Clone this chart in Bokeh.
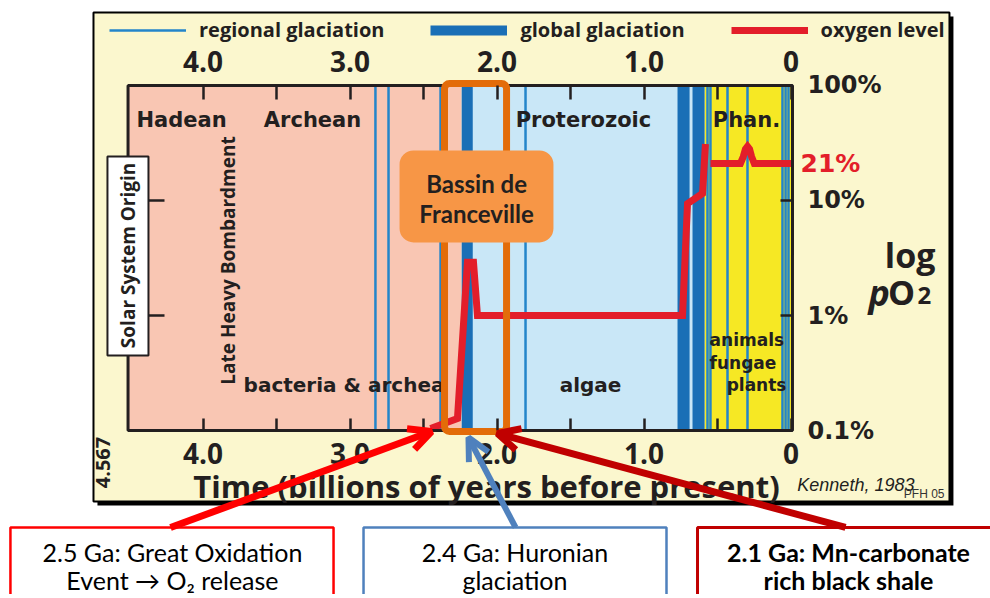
import math
from bokeh.plotting import figure
from bokeh.models import (Range1d, LinearAxis, LogAxis, FixedTicker, Legend, LegendItem,
                          Arrow, OpenHead)
from bokeh.core.properties import value
from bokeh.embed import file_html
from bokeh.resources import INLINE

NAN = float("nan")

# ---------------- data ----------------
# eon background bands (Ga before present)
era_names = ["Hadean-Archean", "Proterozoic", "Phanerozoic"]
era_start = [4.51, 2.24, 0.588]
era_end = [2.24, 0.588, -0.01]
era_colors = ["#F9C6B3", "#C9E7F7", "#F6E824"]

# global glaciations (bands)
global_start = [2.24, 0.772, 0.670]
global_end = [2.165, 0.690, 0.588]

# regional glaciations (thin lines)
regional_t = [2.827, 2.738, 2.384, 1.806, 0.568, 0.548, 0.432, 0.296, 0.058, 0.037, 0.017]

# oxygen level (% of atmosphere), NaN = break in the curve
oxy_t = [2.452, 2.269, 2.201, 2.160, 2.133, 0.738, 0.704, 0.602, 0.582, NAN,
         0.548, 0.344, 0.325, 0.310, 0.296, 0.282, 0.268, 0.250, -0.01]
oxy_pct = [0.104, 0.127, 2.9, 2.9, 1.0, 1.0, 9.4, 11.5, 31.0, NAN,
           21.0, 21.0, 24.0, 28.0, 29.5, 28.0, 24.0, 21.0, 21.0]

x_ticks = [4, 3, 2, 1, 0]
x_tick_labels = ["4.0", "3.0", "2.0", "1.0", "0"]
x_minor_ticks = [3.5, 2.5, 1.5, 0.5]
y_ticks = [0.1, 1, 10, 100]
y_tick_labels = ["0.1%", "1%", "10%", "100%"]
y_inner_ticks = [1, 10]

# ---------------- styling ----------------
INK = "#231F20"
CREAM = "#FBF7CE"
DARK_BLUE = "#1A6FB6"
LINE_BLUE = "#2385CA"
RED = "#E31E2A"
ORANGE = "#E36C09"
ORANGE_FILL = "#F79646"
W, H = 990, 594

p = figure(width=W, height=H, x_range=Range1d(5.3776, -1.3571),
           y_range=Range1d(0.003750, 548.3), y_axis_type="log",
           x_axis_location=None, y_axis_location=None, min_border=0,
           toolbar_location=None, output_backend="svg",
           background_fill_color="white", border_fill_color="white",
           outline_line_color=None)
p.grid.visible = False


def txt(xs, ys, texts, size, font="Open Sans", style="bold", color=INK,
        align="center", baseline="middle", angle=0.0):
    return p.text(x=xs, y=ys, text=texts, text_font=value(font), text_font_size=size,
                  text_font_style=style, text_color=color, text_align=align,
                  text_baseline=baseline, angle=angle)


# cream panel with shadow
p.quad(left=[4.718], right=[-1.105], top=[398.0], bottom=[0.02228],
       fill_color="black", line_color=None)
p.quad(left=[4.745], right=[-1.078], top=[431.5], bottom=[0.02415],
       fill_color=CREAM, line_color="black", line_width=2)

# eon backgrounds
p.quad(left=era_start, right=era_end, top=100, bottom=0.1,
       fill_color=era_colors, line_color=None)

# glaciations
r_global = p.quad(left=global_start, right=global_end, top=100, bottom=0.1,
                  fill_color=DARK_BLUE, line_color=None)
r_regional = p.segment(x0=regional_t, y0=0.1, x1=regional_t, y1=100,
                       line_color=LINE_BLUE, line_width=2.5)

# era / life labels
txt([4.146, 3.255, 1.412, 0.303], [50.6] * 4,
    ["Hadean", "Archean", "Proterozoic", "Phan."], "21px", font="DejaVu Sans")
txt([3.724], [0.251], ["bacteria & archea"], "20px", font="DejaVu Sans", align="left")
txt([1.364], [0.251], ["algae"], "20px", font="DejaVu Sans")
txt([0.554, 0.554], [0.607, 0.390], ["animals", "fungae"], "17px",
    font="DejaVu Sans", align="left")
txt([0.031], [0.251], ["plants"], "17px", font="DejaVu Sans", align="right")
txt([3.827], [3.01], ["Late Heavy Bombardment"], "19px", angle=math.pi / 2)

# oxygen curve
r_oxy = p.line(x=oxy_t, y=oxy_pct, line_color=RED, line_width=7, line_join="miter")
txt([-0.065], [21.0], ["21%"], "25px", font="DejaVu Sans", color=RED, align="left")

# frame
p.quad(left=[4.51], right=[-0.01], top=[100], bottom=[0.1],
       fill_color=None, line_color=INK, line_width=3)

# Franceville highlight
p.quad(left=[2.357], right=[1.935], top=[104.0], bottom=[0.098],
       fill_color=None, line_color=ORANGE, line_width=7, border_radius=5)
p.quad(left=[2.663], right=[1.616], top=[27.2], bottom=[4.315],
       fill_color=ORANGE_FILL, line_color=None, border_radius=14)
txt([2.139, 2.139], [14.06, 7.71], ["Bassin de", "Franceville"], "24px", font="Lato")

# Solar System Origin box
p.quad(left=[4.650], right=[4.371], top=[24.15], bottom=[0.449],
       fill_color="white", line_color=INK, line_width=2)
txt([4.507], [3.33], ["Solar System Origin"], "19px", angle=math.pi / 2)

# right-hand title and credits
txt([-0.983], [3.33], ["log"], "34px", align="right", baseline="alphabetic")
txt([-0.527], [1.585], ["p"], "36px", style="bold italic", align="left", baseline="alphabetic")
txt([-0.660], [1.585], ["O"], "34px", align="left", baseline="alphabetic")
txt([-0.860], [1.49], ["2"], "24px", align="left", baseline="alphabetic")
txt([4.677], [0.0527], ["4.567"], "20px", angle=math.pi / 2)
txt([-0.043], [0.0339], ["Kenneth, 1983"], "18px", font="Liberation Sans",
    style="italic", align="left")
txt([-1.044], [0.0278], ["PFH 05"], "12px", font="Liberation Sans", style="normal",
    color="#333333", align="right")

# bottom call-out boxes
p.quad(left=[5.310, 2.908, 0.636], right=[3.112, 0.847, -1.45],
       top=[0.01435] * 3, bottom=[0.0025] * 3, fill_color="white",
       line_color=["#FF0000", "#4F81BD", "#C00000"], line_width=[2.5, 2.5, 3])
txt([4.208, 4.208], [0.00887, 0.004966],
    ["2.5 Ga: Great Oxidation", "Event \u2192 O\u2082 release"], "25px", font="Lato",
    style="normal", color="black")
txt([1.878, 1.878], [0.00887, 0.004966], ["2.4 Ga: Huronian", "glaciation"], "25px",
    font="Lato", style="normal", color="black")
txt([-0.391, -0.391], [0.00887, 0.004966], ["2.1 Ga: Mn-carbonate", "rich black shale"],
    "25px", font="Lato", style="bold", color="black")

for (xs, ys, xe, ye, c, w) in [(4.221, 0.01435, 2.446, 0.098, "#FF0000", 7),
                               (1.874, 0.01435, 2.194, 0.0869, "#4F81BD", 6),
                               (-0.371, 0.01435, 1.997, 0.0942, "#C00000", 7)]:
    p.add_layout(Arrow(end=OpenHead(size=22, line_color=c, line_width=w),
                       x_start=xs, y_start=ys, x_end=xe, y_end=ye,
                       line_color=c, line_width=w))


# axes (fixed on the frame edges)
def style_axis(ax, tick_len, font, size):
    ax.axis_line_color = None
    ax.major_tick_in = tick_len
    ax.major_tick_out = 0
    ax.minor_tick_in = tick_len
    ax.minor_tick_out = 0
    ax.major_tick_line_color = INK
    ax.minor_tick_line_color = INK
    ax.major_tick_line_width = 2.5
    ax.minor_tick_line_width = 2.5
    ax.major_label_text_font = font
    ax.major_label_text_font_style = "bold"
    ax.major_label_text_font_size = size
    ax.major_label_text_color = INK


top_ax = LinearAxis(fixed_location=100,
                    ticker=FixedTicker(ticks=x_ticks, minor_ticks=x_minor_ticks),
                    major_label_overrides=dict(zip(x_ticks, x_tick_labels)))
style_axis(top_ax, 14, "Open Sans", "28px")
top_ax.major_label_standoff = 13
p.add_layout(top_ax, "above")

bot_ax = LinearAxis(fixed_location=0.1, bounds=(5.3776, -1.2347),
                    ticker=FixedTicker(ticks=x_ticks, minor_ticks=x_minor_ticks),
                    major_label_overrides=dict(zip(x_ticks, x_tick_labels)),
                    axis_label="Time (billions of years before present)")
style_axis(bot_ax, 12, "Open Sans", "28px")
bot_ax.major_label_standoff = 12
bot_ax.axis_label_text_font = "Open Sans"
bot_ax.axis_label_text_font_style = "bold"
bot_ax.axis_label_text_font_size = "31px"
bot_ax.axis_label_text_color = INK
bot_ax.axis_label_standoff = -2
p.add_layout(bot_ax, "below")

right_ax = LogAxis(fixed_location=-0.01, ticker=FixedTicker(ticks=y_ticks),
                   major_label_overrides=dict(zip(y_ticks, y_tick_labels)))
style_axis(right_ax, 12, "DejaVu Sans", "24px")
right_ax.major_label_standoff = 15
p.add_layout(right_ax, "right")

# left-edge ticks start at the right side of the "Solar System Origin" box
left_ax = LogAxis(fixed_location=4.371, ticker=FixedTicker(ticks=y_inner_ticks))
style_axis(left_ax, 16, "Open Sans", "12px")
left_ax.major_label_text_alpha = 0
p.add_layout(left_ax, "left")

# legend (the global-glaciation key is a thick line, drawn by a key-only renderer)
r_global_key = p.line(x=[NAN], y=[NAN], line_color=DARK_BLUE, line_width=10)
legend = Legend(items=[LegendItem(label="regional glaciation", renderers=[r_regional]),
                       LegendItem(label="global glaciation", renderers=[r_global_key]),
                       LegendItem(label="oxygen level", renderers=[r_oxy])],
                orientation="horizontal", location=(109, 551), glyph_width=77,
                glyph_height=14, label_standoff=13, spacing=46, padding=0, margin=0,
                background_fill_alpha=0, border_line_color=None,
                label_text_font="Open Sans", label_text_font_style="bold",
                label_text_font_size="20px", label_text_color=INK)
p.add_layout(legend)

open("out.html", "w").write(file_html(p, INLINE))
